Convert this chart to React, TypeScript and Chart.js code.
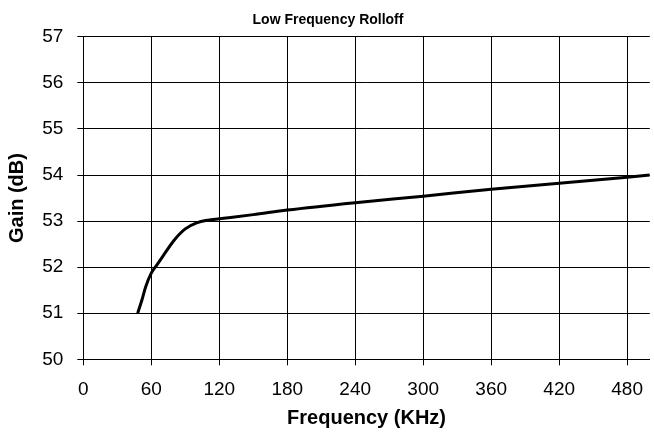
import React, { useEffect, useRef } from "react";
import { Chart, registerables } from "chart.js";

Chart.register(...registerables);

const frequencyKHz = [48, 52, 55, 60, 65, 70, 80, 90, 100, 110, 120, 150, 180, 240, 300, 360, 420, 480, 500];
const gainDb = [51.0, 51.31, 51.57, 51.87, 52.05, 52.23, 52.58, 52.83, 52.96, 53.02, 53.05, 53.14, 53.24, 53.4, 53.54, 53.69, 53.82, 53.95, 54.0];
const xTickValues = [0, 60, 120, 180, 240, 300, 360, 420, 480];
const yTickValues = [50, 51, 52, 53, 54, 55, 56, 57];

const FONT = "'Liberation Sans', Arial, sans-serif";

export default function App() {
  const canvasRef = useRef<HTMLCanvasElement | null>(null);

  useEffect(() => {
    const canvas = canvasRef.current;
    if (!canvas) return;
    const chart = new Chart(canvas, {
      type: "line",
      data: {
        datasets: [
          {
            data: frequencyKHz.map((f, i) => ({ x: f, y: gainDb[i] })),
            borderColor: "#000",
            borderWidth: 3,
            pointRadius: 0,
            fill: false,
            cubicInterpolationMode: "monotone",
          },
        ],
      },
      options: {
        animation: false,
        responsive: false,
        devicePixelRatio: 1,
        layout: { padding: 0 },
        plugins: {
          legend: { display: false },
          tooltip: { enabled: false },
          title: {
            display: true,
            text: "Low Frequency Rolloff",
            color: "#000",
            font: { family: FONT, size: 14, weight: "bold" },
            padding: { top: 12, bottom: 8 },
          },
        },
        scales: {
          x: {
            type: "linear",
            min: 0,
            max: 500,
            afterBuildTicks: (axis: any) => {
              axis.ticks = xTickValues.map((v) => ({ value: v }));
            },
            afterFit: (axis: any) => {
              axis.height = 73.7;
            },
            grid: { color: "#000", lineWidth: 1, tickLength: 6, drawTicks: true },
            border: { display: true, color: "#000", width: 1 },
            ticks: {
              color: "#000",
              padding: 13,
              font: { family: FONT, size: 19 },
              maxRotation: 0,
            },
            title: {
              display: true,
              text: "Frequency (KHz)",
              color: "#000",
              font: { family: FONT, size: 20, weight: "bold" },
              padding: { top: 2, bottom: 3 },
            },
          },
          y: {
            type: "linear",
            min: 50,
            max: 57,
            afterBuildTicks: (axis: any) => {
              axis.ticks = yTickValues.map((v) => ({ value: v }));
            },
            afterFit: (axis: any) => {
              axis.width = 83.3;
            },
            grid: { color: "#000", lineWidth: 1, tickLength: 6, drawTicks: true },
            border: { display: true, color: "#000", width: 1 },
            ticks: {
              color: "#000",
              padding: 14,
              font: { family: FONT, size: 19 },
            },
            title: {
              display: true,
              text: "Gain (dB)",
              color: "#000",
              font: { family: FONT, size: 20, weight: "bold" },
              padding: { top: 5.5, bottom: 2 },
            },
          },
        },
      },
    });
    return () => chart.destroy();
  }, []);

  return (
    <div
      style={{
        position: "fixed",
        left: 0,
        top: 0,
        width: 654,
        height: 433,
        overflow: "hidden",
        background: "#fff",
      }}
    >
      <canvas ref={canvasRef} width={656} height={433} style={{ display: "block" }} />
    </div>
  );
}
